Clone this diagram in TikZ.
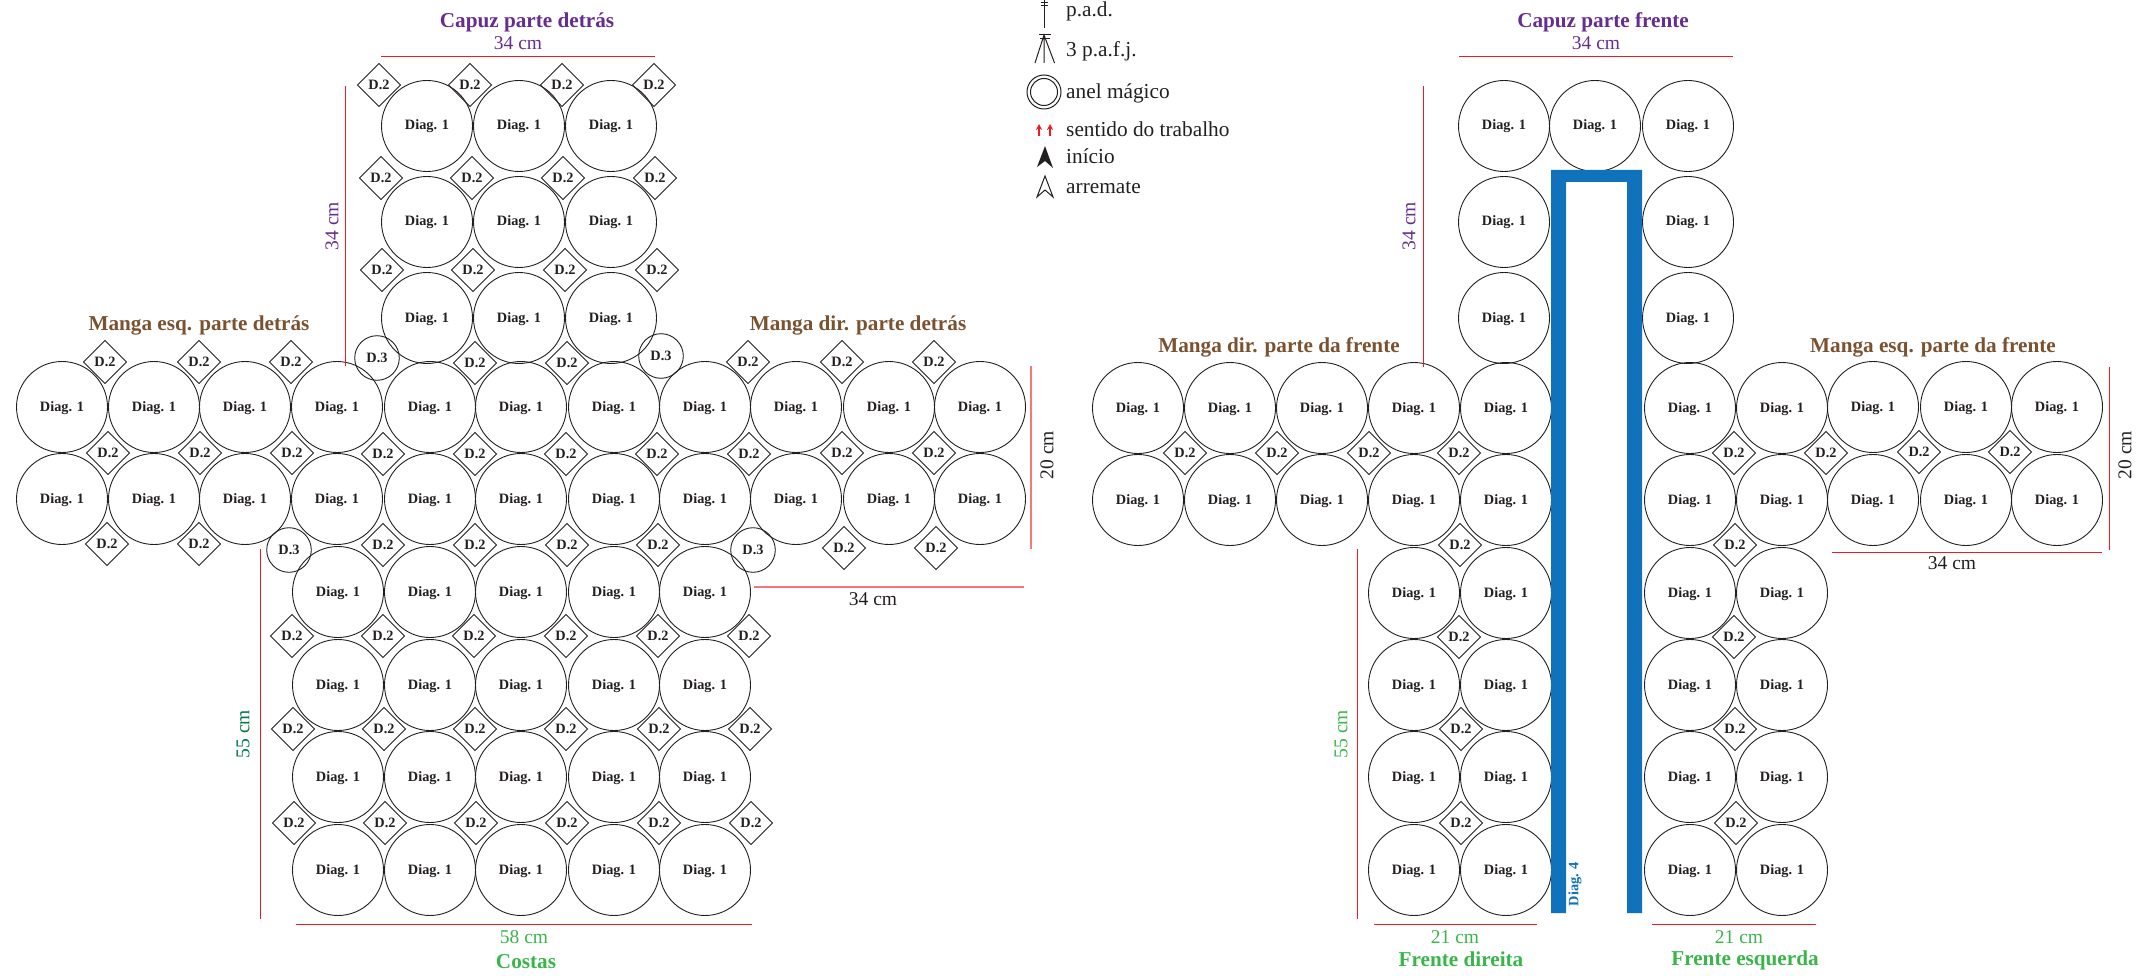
\documentclass[tikz,border=0pt]{standalone}
\usepackage{fontspec}
\setmainfont{Liberation Serif}
\usetikzlibrary{shapes.geometric,arrows.meta}
\definecolor{ink}{HTML}{231F20}
\definecolor{redline}{HTML}{ED1C24}
\definecolor{hoodpurple}{HTML}{662D91}
\definecolor{sleevebrown}{HTML}{7B5230}
\definecolor{bodygreen}{HTML}{39B54A}
\definecolor{darkgrn}{HTML}{00794A}
\definecolor{diagblue}{HTML}{1072BA}
\tikzset{
  diagone/.style={circle,draw=ink,line width=0.9pt,minimum size=91pt,inner sep=0pt,outer sep=0pt,text=ink,text height=9.5pt,text depth=1.5pt,font=\fontsize{14.3}{16}\selectfont\bfseries},
  dtwo/.style={diamond,draw=ink,line width=0.9pt,minimum size=43pt,inner sep=0pt,outer sep=0pt,text=ink,font=\fontsize{14.3}{16}\selectfont\bfseries},
  dthree/.style={circle,draw=ink,line width=0.9pt,minimum size=44.6pt,inner sep=0pt,outer sep=0pt,text=ink,font=\fontsize{14.3}{16}\selectfont\bfseries},
  dimline/.style={draw=redline,line width=1pt},
  softline/.style={draw=redline!60,line width=1.5pt},
  title/.style={inner sep=0pt,font=\fontsize{21.2}{24}\selectfont\bfseries},
  dimtext/.style={inner sep=0pt,font=\fontsize{19.5}{22}\selectfont},
  legendtext/.style={inner sep=0pt,anchor=base west,text=ink,font=\fontsize{21.3}{24}\selectfont},
  legendsym/.style={draw=ink,line width=1pt},
}
\begin{document}
\begin{tikzpicture}[x=1pt,y=-1pt]
\useasboundingbox (0,0) rectangle (2154,976);
% --- Back: circles
\foreach \cx/\cy [count=\i] in {
 427/126,519/126,611/126, 427/222,519/222,611/222, 427/318,519/318,611/318,
 62/407,154/407,245/407,337/407,430/407,521/407,614/407,705/407,796/407,889/407,980/407,
 62/499,154/499,245/499,337/499,430/499,521/499,614/499,705/499,796/499,889/499,980/499,
 338/592,430/592,521/592,614/592,705/592,
 338/685,430/685,521/685,614/685,705/685,
 338/777,430/777,521/777,614/777,705/777,
 338/870,430/870,521/870,614/870,705/870}
  {\node[diagone] (b\i) at (\cx,\cy) {Diag. 1};}
% --- Back: D.2
\foreach \cx/\cy [count=\i] in {
 379/85,470/85,562/85,654/85,
 381/178,472/178,563/178,655/178,
 382/270,473/270,565/270,657/270,
 105/362,199/362,291/362,748/362,842/362,934/362,475/363,567/363,
 108/453,200/453,292/453,383/454,475/454,566/454,657/454,749/454,842/453,934/453,
 107/544,199/544,383/545,475/545,567/545,658/545,844/548,936/548,
 292/636,383/636,474/636,566/636,658/636,749/636,
 293/729,384/729,475/729,566/729,659/729,750/729,
 294/823,385/823,476/823,567/823,659/823,751/823}
  {\node[dtwo] (bd\i) at (\cx,\cy) {D.2};}
% --- Back: D.3
\node[dthree] (bt1) at (377,358) {D.3};
\node[dthree] (bt2) at (661,356) {D.3};
\node[dthree] (bt3) at (289,550) {D.3};
\node[dthree] (bt4) at (753,550) {D.3};
% --- Front: circles
\foreach \cx/\cy [count=\i] in {
 1504/126,1595/126,1688/126, 1504/222,1688/222, 1504/318,1688/318,
 1138/408,1230/408,1322/408,1414/408,1506/408,1690/408,1782/408,1873/407,1966/407,2057/407,
 1138/500,1230/500,1322/500,1414/500,1506/500,1690/500,1782/500,1873/500,1966/500,2057/500,
 1414/593,1506/593,1690/593,1782/593,
 1414/685,1506/685,1690/685,1782/685,
 1414/777,1506/777,1690/777,1782/777,
 1414/870,1506/870,1690/870,1782/870}
  {\node[diagone] (f\i) at (\cx,\cy) {Diag. 1};}
% --- Front: D.2
\foreach \cx/\cy [count=\i] in {
 1185/453,1277/453,1369/453,1459/453,1734/453,1826/453,1919/452,2010/452,
 1460/545,1735/545,1459/637,1734/637,1461/729,1735/729,1461/823,1736/823}
  {\node[dtwo] (fd\i) at (\cx,\cy) {D.2};}
% --- Front: blue band
\fill[diagblue] (1551,913) -- (1551,170) -- (1642,170) -- (1642,913) -- (1627,913) -- (1627,182) -- (1566,182) -- (1566,913) -- cycle;
\node[inner sep=0pt,rotate=90,text=diagblue,font=\fontsize{14.3}{16}\selectfont\bfseries] (dfour) at (1575,884) {Diag. 4};
% --- Red dimension lines, back
\draw[dimline] (381,57) -- (655,57);
\draw[dimline] (345,86) -- (345,366);
\draw[dimline] (260,549) -- (260,919);
\draw[dimline] (296,924) -- (752,924);
\draw[softline] (754,587) -- (1024,587);
\draw[softline] (1031,366) -- (1031,549);
% --- Red dimension lines, front
\draw[dimline] (1459,57) -- (1733,57);
\draw[dimline] (1423,86) -- (1423,367);
\draw[dimline] (1357,549) -- (1357,919);
\draw[dimline] (1374,924) -- (1537,924);
\draw[dimline] (1652,924) -- (1816,924);
\draw[dimline] (1832,552) -- (2102,552);
\draw[dimline] (2109.5,367) -- (2109.5,550);
% --- Labels, back
\node[title,text=hoodpurple] (t1) at (527,22) {Capuz parte detrás};
\node[dimtext,text=hoodpurple] (t2) at (518,43) {34 cm};
\node[dimtext,text=hoodpurple,rotate=90] (t3) at (332,226) {34 cm};
\node[title,text=sleevebrown] (t4) at (199,325) {Manga esq. parte detrás};
\node[title,text=sleevebrown] (t5) at (858,325) {Manga dir. parte detrás};
\node[dimtext,text=ink] (t6) at (873,599) {34 cm};
\node[dimtext,text=ink,rotate=90] (t7) at (1047,455) {20 cm};
\node[dimtext,text=darkgrn,rotate=90] (t8) at (243,734) {55 cm};
\node[dimtext,text=bodygreen] (t9) at (524,937) {58 cm};
\node[title,text=bodygreen] (t10) at (526,962) {Costas};
% --- Labels, front
\node[title,text=hoodpurple] (t11) at (1603,22) {Capuz parte frente};
\node[dimtext,text=hoodpurple] (t12) at (1596,43) {34 cm};
\node[dimtext,text=hoodpurple,rotate=90] (t13) at (1409,226) {34 cm};
\node[title,text=sleevebrown] (t14) at (1279,347) {Manga dir. parte da frente};
\node[title,text=sleevebrown] (t15) at (1933,347) {Manga esq. parte da frente};
\node[dimtext,text=ink] (t16) at (1952,563) {34 cm};
\node[dimtext,text=ink,rotate=90] (t17) at (2125,455) {20 cm};
\node[dimtext,text=bodygreen,rotate=90] (t18) at (1341,734) {55 cm};
\node[dimtext,text=bodygreen] (t19) at (1455,937) {21 cm};
\node[dimtext,text=bodygreen] (t20) at (1739,937) {21 cm};
\node[title,text=bodygreen] (t21) at (1461,959) {Frente direita};
\node[title,text=bodygreen] (t22) at (1745,960) {Frente esquerda};
% --- Legend
\node[legendtext] (l1) at (1066,16.5) {p.a.d.};
\node[legendtext] (l2) at (1066,56.5) {3 p.a.f.j.};
\node[legendtext] (l3) at (1066,98.5) {anel mágico};
\node[legendtext] (l4) at (1066,136.5) {sentido do trabalho};
\node[legendtext] (l5) at (1066,163.5) {início};
\node[legendtext] (l6) at (1066,193.5) {arremate};
\draw[legendsym] (1044,0) -- (1044,28);
\draw[legendsym] (1040.5,2.5) -- (1047.5,2.5) (1040.5,6) -- (1047.5,6);
\draw[legendsym] (1039,35) -- (1051,35) (1040,38.5) -- (1050,38.5);
\draw[legendsym] (1035,63) -- (1044,35) -- (1054.5,63) (1044,35) -- (1044,63);
\draw[legendsym] (1044,92) circle (17);
\draw[legendsym] (1044,92) circle (13.5);
\draw[redline,line width=1.2pt,-{Stealth[length=6pt,width=6pt]}] (1039,136) -- (1039,124);
\draw[redline,line width=1.2pt,-{Stealth[length=6pt,width=6pt]}] (1050,136) -- (1050,124);
\fill[ink] (1045,146) -- (1037,167) -- (1045,161) -- (1053,168) -- cycle;
\draw[legendsym,line join=miter] (1045,176) -- (1037,197) -- (1045,190) -- (1053,197) -- cycle;
\end{tikzpicture}
\end{document}
